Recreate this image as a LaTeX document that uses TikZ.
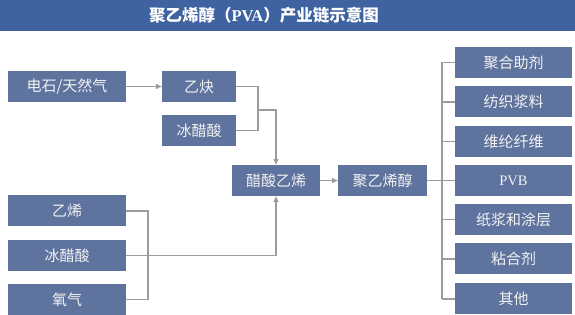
\documentclass[tikz,border=0pt]{standalone}
\usepackage{fontspec}
\usepackage{xcolor}
\usepackage{tikz}
\usetikzlibrary{arrows.meta,positioning,calc}
\newfontfamily\cjk{Noto Sans CJK SC}
\newfontfamily\latserif{Liberation Serif}
\definecolor{pvatitre}{HTML}{3F62A0}
\definecolor{pvabox}{HTML}{5F739F}
\definecolor{pvaligne}{HTML}{9C9C9C}
\definecolor{pvatexte}{HTML}{F2F2F2}

\begin{document}
\begin{tikzpicture}[x=1pt,y=1pt,
  box/.style={rectangle,fill=pvabox,text=pvatexte,minimum height=31pt,
    inner sep=0pt,align=center,font=\cjk\fontsize{15}{17}\selectfont},
  line/.style={pvaligne,line width=1.2pt},
  arr/.style={line,-{Triangle[length=6pt,width=5pt]}}]
  \useasboundingbox (0,0) rectangle (575,315);
  % title bar
  \fill[pvatitre] (0,315) rectangle (575,284);
  \node[text=white,font=\cjk\bfseries\fontsize{16.5}{19}\selectfont] (titre) at (264,299.5)
    {聚乙烯醇（{\latserif PVA}）产业链示意图};
  % raw materials
  \node[box,minimum width=118pt] (dianshi) at (67,228.5) {电石/天然气};
  \node[box,minimum width=74pt] (yique) at (199,228.5) {乙炔};
  \node[box,minimum width=74pt] (bingA) at (199,184.5) {冰醋酸};
  \node[box,minimum width=118pt] (yixi) at (67,104) {乙烯};
  \node[box,minimum width=118pt] (bingB) at (67,59.5) {冰醋酸};
  \node[box,minimum width=118pt] (yangqi) at (67,15.5) {氧气};
  % intermediates
  \node[box,minimum width=88pt] (vac) at (276,134.5) {醋酸乙烯};
  \node[box,minimum width=89pt] (pva) at (382.5,134.5) {聚乙烯醇};
  % applications
  \node[box,minimum width=117pt] (r1) at (513.5,252.5) {聚合助剂};
  \node[box,minimum width=117pt] (r2) at (513.5,213) {纺织浆料};
  \node[box,minimum width=117pt] (r3) at (513.5,173.5) {维纶纤维};
  \node[box,minimum width=117pt,font=\latserif\fontsize{14.5}{16}\selectfont] (r4) at (513.5,134.5) {PVB};
  \node[box,minimum width=117pt] (r5) at (513.5,95.5) {纸浆和涂层};
  \node[box,minimum width=117pt] (r6) at (513.5,56) {粘合剂};
  \node[box,minimum width=117pt] (r7) at (513.5,16) {其他};
  \coordinate (mA) at (258,205);
  \coordinate (mB) at (148,59.5);
  \coordinate (bus) at (442,134.5);
  % connectors
  \draw[arr] (dianshi) -- (yique);
  \draw[line] (yique.east) -| (mA) |- (bingA.east);
  \draw[arr] (mA) -| (vac.north);
  \draw[line] (yixi.east) -| (mB) |- (yangqi.east);
  \draw[arr] (bingB.east) -| (vac.south);
  \draw[arr] (vac) -- (pva);
  \draw[line] (pva) -- (r4);
  \draw[line] (bus |- r1.west) -- (bus |- r7.west);
  \foreach \i in {1,...,7} \draw[line] (bus |- r\i.west) -- (r\i.west);
\end{tikzpicture}
\end{document}
